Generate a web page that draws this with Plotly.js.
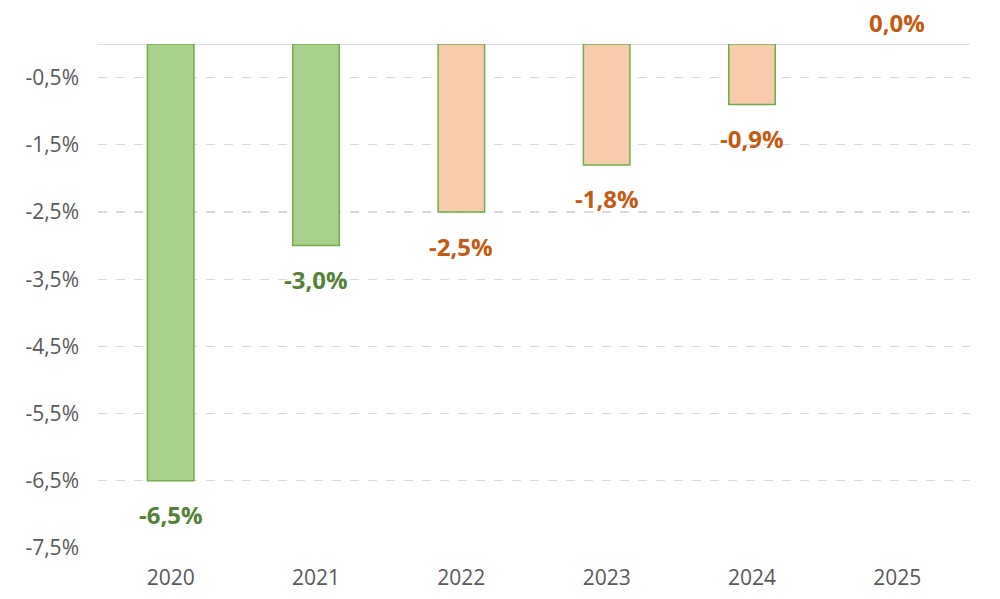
<!DOCTYPE html>
<html>
<head>
<meta charset="utf-8">
<script src="https://cdn.plot.ly/plotly-3.0.1.min.js"></script>
<style>html,body{margin:0;padding:0;background:#fff;}#chart{width:1000px;height:599px;}</style>
</head>
<body>
<div id="chart"></div>
<script>
const years = ['2020', '2021', '2022', '2023', '2024', '2025'];
const values = [-6.5, -3.0, -2.5, -1.8, -0.9, 0.0];
const labels = ['-6,5%', '-3,0%', '-2,5%', '-1,8%', '-0,9%', '0,0%'];
const isActual = [true, true, false, false, false, false];
const tickVals = [-0.5, -1.5, -2.5, -3.5, -4.5, -5.5, -6.5, -7.5];
const tickText = ['-0,5%', '-1,5%', '-2,5%', '-3,5%', '-4,5%', '-5,5%', '-6,5%', '-7,5%'];

const fillColors = isActual.map(a => a ? '#A9D18E' : '#F8CBAD');
const labelColors = isActual.map(a => a ? '#548235' : '#C55A11');
const lineWidths = values.map(v => v === 0 ? 0 : 1.5);

const trace = {
  type: 'bar',
  x: years,
  y: values,
  marker: { color: fillColors, line: { color: '#70AD47', width: lineWidths } },
  hoverinfo: 'none'
};

const annotations = years.map((yr, i) => ({
  x: i, y: values[i], xref: 'x', yref: 'y',
  text: labels[i], showarrow: false,
  yshift: values[i] < 0 ? -34 : 22,
  font: { family: 'Open Sans, Liberation Sans, sans-serif', size: 24, color: labelColors[i], weight: 'bold' }
}));

const layout = {
  width: 1000, height: 599,
  margin: { l: 98, r: 30, t: 44, b: 51 },
  paper_bgcolor: '#fff', plot_bgcolor: '#fff',
  bargap: 0.68,
  showlegend: false,
  font: { family: 'Open Sans, Liberation Sans, sans-serif', color: '#595959' },
  xaxis: {
    type: 'category', range: [-0.5, years.length - 0.5],
    showgrid: false, showline: false, zeroline: false,
    tickfont: { size: 21, color: '#595959' }, ticks: '', ticklabelstandoff: 15
  },
  yaxis: {
    range: [-7.5, 0], tickvals: tickVals, ticktext: tickText,
    showgrid: true, gridcolor: '#d9d9d9', griddash: 'dash', gridwidth: 1.2,
    zeroline: false, showline: false, ticks: '',
    tickfont: { size: 21, color: '#595959' }, ticklabelstandoff: 18
  },
  shapes: [{
    type: 'line', xref: 'paper', yref: 'y', x0: 0, x1: 1, y0: 0, y1: 0,
    line: { color: '#d0d0d0', width: 1.5 }, layer: 'below'
  }],
  annotations: annotations
};

Plotly.newPlot('chart', [trace], layout, { displayModeBar: false, staticPlot: true });
</script>
</body>
</html>
